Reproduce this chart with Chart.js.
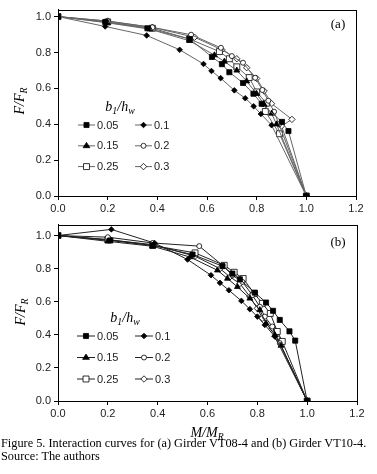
<!DOCTYPE html>
<html>
<head>
<meta charset="utf-8">
<script src="https://cdn.jsdelivr.net/npm/chart.js@4.4.1/dist/chart.umd.min.js"></script>
<style>
  html,body{margin:0;padding:0;background:#fff;}
  body{width:377px;height:474px;position:relative;overflow:hidden;}
  canvas{position:absolute;left:0;}
  .ytitle{position:absolute;font-family:"Liberation Serif",serif;font-style:italic;font-size:14px;color:#000;
          transform:translate(-50%,-50%) rotate(-90deg);white-space:nowrap;}
  .xtitle{position:absolute;font-family:"Liberation Serif",serif;font-style:italic;font-size:14px;color:#000;
          transform:translate(-50%,-50%);white-space:nowrap;}
  .ltitle{position:absolute;font-family:"Liberation Serif",serif;font-style:italic;font-size:14px;color:#000;
          transform:translate(-50%,-50%);white-space:nowrap;}
  .panel{position:absolute;font-family:"Liberation Serif",serif;font-size:13px;color:#000;transform:translate(-50%,-50%);}
  sub{font-size:70%;vertical-align:-3px;font-style:italic;}
  .cap{position:absolute;left:1px;font-family:"Liberation Serif",serif;font-size:12.3px;color:#000;white-space:nowrap;line-height:13px;}
</style>
</head>
<body>
<canvas id="ca" width="377" height="215" style="top:0;width:377px;height:215px"></canvas>
<canvas id="cb" width="377" height="222" style="top:215px;width:377px;height:222px"></canvas>

<div class="ytitle" style="left:20px;top:101px"><i>F</i>/<i>F</i><sub>R</sub></div>
<div class="ytitle" style="left:21px;top:312px"><i>F</i>/<i>F</i><sub>R</sub></div>
<div class="ltitle" style="left:120px;top:107px"><i>b</i><sub>1</sub>/<i>h</i><sub>w</sub></div>
<div class="ltitle" style="left:125px;top:318px"><i>b</i><sub>1</sub>/<i>h</i><sub>w</sub></div>
<div class="panel" style="left:338px;top:24px">(a)</div>
<div class="panel" style="left:338px;top:242px">(b)</div>
<div class="xtitle" style="left:207px;top:433px"><i>M</i>/<i>M</i><sub>R</sub></div>
<div class="cap" style="top:437px">Figure 5. Interaction curves for (a) Girder VT08-4 and (b) Girder VT10-4.<br>Source: The authors</div>

<script>
// ---------- data ----------
const seriesLabels = ["0.05", "0.1", "0.15", "0.2", "0.25", "0.3"];
const xTicks = [0, 0.2, 0.4, 0.6, 0.8, 1.0, 1.2];
const yTicks = [0, 0.2, 0.4, 0.6, 0.8, 1.0];

// Panel (a): Girder VT08-4, points as [M/MR, F/FR]
const a005 = [[0,1],[0.19,0.97],[0.36,0.935],[0.53,0.875],[0.62,0.775],[0.66,0.735],[0.69,0.69],[0.745,0.63],[0.787,0.57],[0.82,0.514],[0.902,0.413],[0.928,0.362],[1,0]];
const a010 = [[0,1],[0.19,0.945],[0.357,0.895],[0.49,0.815],[0.586,0.736],[0.618,0.697],[0.655,0.657],[0.71,0.589],[0.754,0.545],[0.788,0.5],[0.817,0.457],[0.86,0.395],[1,0]];
const a015 = [[0,1],[0.2,0.965],[0.37,0.93],[0.53,0.865],[0.63,0.785],[0.67,0.75],[0.72,0.7],[0.76,0.64],[0.8,0.57],[0.83,0.51],[0.86,0.46],[0.88,0.4],[1,0]];
const a020 = [[0,1],[0.2,0.975],[0.38,0.94],[0.536,0.899],[0.656,0.826],[0.70,0.78],[0.745,0.743],[0.794,0.659],[0.823,0.591],[0.847,0.531],[0.87,0.47],[0.89,0.4],[1,0]];
const a025 = [[0,1],[0.2,0.97],[0.38,0.935],[0.53,0.875],[0.65,0.805],[0.69,0.765],[0.72,0.72],[0.77,0.66],[0.8,0.58],[0.839,0.517],[0.835,0.471],[0.892,0.347],[1,0]];
const a030 = [[0,1],[0.2,0.975],[0.38,0.94],[0.55,0.885],[0.66,0.815],[0.72,0.765],[0.76,0.715],[0.8,0.655],[0.83,0.585],[0.86,0.515],[0.942,0.427],[0.9,0.39],[1,0]];

// Panel (b): Girder VT10-4
const b005 = [[0,1],[0.21,0.97],[0.38,0.94],[0.54,0.885],[0.66,0.815],[0.7,0.77],[0.73,0.735],[0.79,0.655],[0.835,0.595],[0.863,0.545],[0.89,0.49],[0.929,0.421],[0.952,0.365],[1,0]];
const b010 = [[0,1],[0.214,1.037],[0.388,0.954],[0.52,0.855],[0.614,0.76],[0.65,0.714],[0.686,0.669],[0.736,0.605],[0.77,0.555],[0.8,0.51],[0.83,0.46],[0.87,0.39],[1,0]];
const b015 = [[0,1],[0.2,0.965],[0.38,0.935],[0.53,0.87],[0.64,0.79],[0.68,0.74],[0.72,0.69],[0.77,0.62],[0.81,0.55],[0.835,0.469],[0.87,0.4],[0.895,0.335],[1,0]];
const b020 = [[0,1],[0.2,0.99],[0.38,0.955],[0.567,0.936],[0.66,0.82],[0.7,0.76],[0.74,0.72],[0.78,0.64],[0.81,0.57],[0.83,0.51],[0.86,0.45],[0.89,0.35],[1,0]];
const b025 = [[0,1],[0.2,0.975],[0.38,0.94],[0.55,0.895],[0.667,0.82],[0.707,0.778],[0.743,0.74],[0.788,0.649],[0.82,0.59],[0.852,0.529],[0.88,0.42],[0.9,0.36],[1,0]];
const b030 = [[0,1],[0.2,0.975],[0.38,0.945],[0.55,0.875],[0.65,0.8],[0.69,0.75],[0.73,0.71],[0.77,0.63],[0.8,0.56],[0.82,0.5],[0.86,0.44],[0.88,0.38],[1,0]];

// ---------- styles ----------
const markerStyles = [
  {pointStyle:'rect',     r:3.6, fill:'#000'},
  {pointStyle:'rectRot',  r:2.8, fill:'#000'},
  {pointStyle:'triangle', r:3.4, fill:'#000'},
  {pointStyle:'circle',   r:2.5, fill:'#fff'},
  {pointStyle:'rect',     r:4.2, fill:'#fff'},
  {pointStyle:'rectRot',  r:3.2, fill:'#fff'}
];

function makeDatasets(list, lineColor){
  return list.map((pts,i)=>({
    label: seriesLabels[i],
    data: pts.map(p=>({x:p[0], y:p[1]})),
    showLine: true,
    borderColor: lineColor,
    borderWidth: 1,
    pointStyle: markerStyles[i].pointStyle,
    pointRadius: markerStyles[i].r,
    pointBackgroundColor: markerStyles[i].fill,
    pointBorderColor: '#000',
    pointBorderWidth: 0.8,
    tension: 0
  }));
}

function drawMarker(ctx, style, x, y, r, fill){
  ctx.beginPath();
  if(style==='rect'){ const s=r*Math.SQRT1_2; ctx.rect(x-s,y-s,2*s,2*s); }
  else if(style==='rectRot'){ ctx.moveTo(x,y-r); ctx.lineTo(x+r,y); ctx.lineTo(x,y+r); ctx.lineTo(x-r,y); ctx.closePath(); }
  else if(style==='triangle'){ ctx.moveTo(x,y-r); ctx.lineTo(x+r,y+r*0.55); ctx.lineTo(x-r,y+r*0.55); ctx.closePath(); }
  else { ctx.arc(x,y,r,0,Math.PI*2); }
  ctx.fillStyle=fill; ctx.fill(); ctx.lineWidth=0.8; ctx.strokeStyle='#000'; ctx.stroke();
}

const boxPlugin = {
  id:'box',
  afterDraw(chart){
    const {ctx, chartArea:a} = chart;
    ctx.save(); ctx.strokeStyle='#000'; ctx.lineWidth=1;
    ctx.strokeRect(Math.round(a.left)+0.5, Math.round(a.top)+0.5, Math.round(a.right-a.left), Math.round(a.bottom-a.top));
    // legend
    const L = chart.options.plugins.boxLegend;
    chart.data.datasets.forEach((ds,i)=>{
      const col=i%2, row=Math.floor(i/2);
      const x0 = L.cols[col], y = L.y0 + row*L.dy;
      ctx.beginPath(); ctx.moveTo(x0,y); ctx.lineTo(x0+L.lineLen,y);
      ctx.strokeStyle=ds.borderColor; ctx.lineWidth=1; ctx.stroke();
      drawMarker(ctx, ds.pointStyle, x0+L.lineLen/2, y, ds.pointRadius, ds.pointBackgroundColor);
      ctx.fillStyle='#222'; ctx.font='11px "Liberation Sans", Arial, sans-serif';
      ctx.textBaseline='middle'; ctx.textAlign='left';
      ctx.fillText(ds.label, x0+L.lineLen+2, y+0.5);
    });
    ctx.restore();
  }
};

function makeChart(id, datasets, yMax, pad, xAxisH, legend){
  return new Chart(document.getElementById(id), {
    type:'scatter',
    data:{datasets},
    plugins:[boxPlugin],
    options:{
      responsive:false, animation:false, devicePixelRatio:1,
      layout:{padding:pad},
      plugins:{legend:{display:false}, tooltip:{enabled:false}, boxLegend:legend},
      scales:{
        x:{type:'linear', min:0, max:1.2,
           afterBuildTicks:s=>{s.ticks = xTicks.map(v=>({value:v}));},
           afterFit:s=>{s.height = xAxisH;},
           ticks:{callback:v=>v.toFixed(1), color:'#222', font:{family:'"Liberation Sans", Arial, sans-serif', size:11}, padding:2, maxRotation:0, autoSkip:false},
           grid:{display:true, drawOnChartArea:false, drawTicks:true, tickLength:4, color:'#000'},
           border:{display:true, color:'#000', width:1}},
        y:{type:'linear', min:0, max:yMax,
           afterBuildTicks:s=>{s.ticks = yTicks.map(v=>({value:v}));},
           afterFit:s=>{s.width = 58;},
           ticks:{callback:v=>v.toFixed(1), color:'#222', font:{family:'"Liberation Sans", Arial, sans-serif', size:11}, padding:3, autoSkip:false},
           grid:{display:true, drawOnChartArea:false, drawTicks:true, tickLength:4, color:'#000'},
           border:{display:true, color:'#000', width:1}}
      }
    }
  });
}

makeChart('ca', makeDatasets([a005,a010,a015,a020,a025,a030], '#666'), 1.039,
  {left:0, right:21, top:7, bottom:0}, 19,
  {cols:[78,135], y0:125, dy:20.8, lineLen:17});
makeChart('cb', makeDatasets([b005,b010,b015,b020,b025,b030], '#222'), 1.066,
  {left:0, right:20, top:8, bottom:0}, 36,
  {cols:[77,135], y0:121, dy:21.5, lineLen:18});
</script>
</body>
</html>
